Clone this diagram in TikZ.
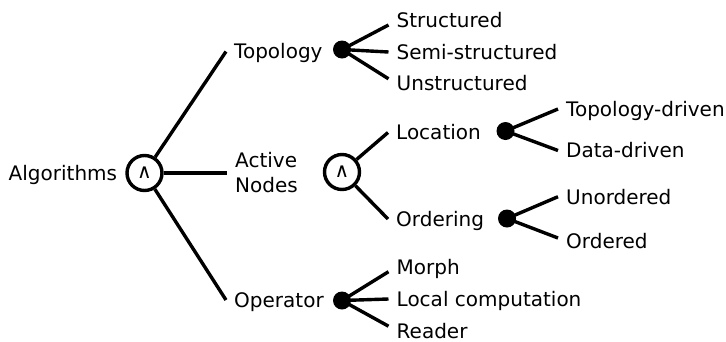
\documentclass[tikz,border=0pt]{standalone}
\usepackage{fontspec}
\setmainfont{DejaVu Sans}
\usepackage{tikz}
\usetikzlibrary{positioning}

\begin{document}
\begin{tikzpicture}[
    x=1pt, y=-1pt,
    font=\fontsize{20pt}{25pt}\selectfont,
    branch/.style={line width=3.4pt},
    andnode/.style={circle, draw, line width=3.4pt, minimum size=35pt, inner sep=0pt},
    dot/.style={circle, fill, minimum size=18pt, inner sep=0pt},
    leaf/.style={anchor=west, inner xsep=8pt, inner ysep=0pt, text height=14.6pt, text depth=0pt}
]
    \useasboundingbox (0, 0) rectangle (726, 341);

    % === Root ===
    \node[andnode] (and1) at (144.5, 173) {∧};
    \node[leaf, anchor=east, left=0pt of and1] (algo) {Algorithms};

    % First level
    \node[leaf] (topo) at (226, 51.5) {Topology};
    \node[anchor=west, inner xsep=8pt, align=left] (active) at (227, 173) {Active\\Nodes};
    \node[leaf] (oper) at (226, 300) {Operator};

    \draw[branch] (and1) -- (topo.west);
    \draw[branch] (and1) -- (active.west);
    \draw[branch] (and1) -- (oper.west);

    % === Topology ===
    \node[dot] (dtop) at (342, 49.5) {};
    \node[leaf] (struct) at (388.5, 20.5) {Structured};
    \node[leaf] (semi) at (388.5, 52) {Semi-structured};
    \node[leaf] (unstruct) at (388.5, 83.3) {Unstructured};

    \draw[branch] (dtop.center) -- ([yshift=-4.5pt]struct.west);
    \draw[branch] (dtop.center) -- (semi.west);
    \draw[branch] (dtop.center) -- ([yshift=4.5pt]unstruct.west);

    % === Active nodes ===
    \node[andnode] (and2) at (342, 172) {∧};
    \node[leaf] (loc) at (388, 132.5) {Location};
    \node[leaf] (ord) at (388, 219) {Ordering};

    \draw[branch] (and2) -- (loc.west);
    \draw[branch] (and2) -- (ord.west);

    % Location
    \node[dot] (dloc) at (505.5, 131) {};
    \node[leaf] (topdrv) at (558, 109) {Topology-driven};
    \node[leaf] (datadrv) at (558, 150.5) {Data-driven};

    \draw[branch] (dloc.center) -- (topdrv.west);
    \draw[branch] (dloc.center) -- (datadrv.west);

    % Ordering
    \node[dot] (dord) at (507, 218.5) {};
    \node[leaf] (unord) at (558, 196.7) {Unordered};
    \node[leaf] (orded) at (558, 241) {Ordered};

    \draw[branch] (dord.center) -- (unord.west);
    \draw[branch] (dord.center) -- ([yshift=3pt]orded.west);

    % === Operator ===
    \node[dot] (dop) at (342, 300.5) {};
    \node[leaf] (morph) at (388.5, 266.7) {Morph};
    \node[leaf] (local) at (388.5, 299) {Local computation};
    \node[leaf] (reader) at (388.5, 331.2) {Reader};

    \draw[branch] (dop.center) -- ([yshift=-5pt]morph.west);
    \draw[branch] (dop.center) -- (local.west);
    \draw[branch] (dop.center) -- ([yshift=5pt]reader.west);

\end{tikzpicture}
\end{document}
